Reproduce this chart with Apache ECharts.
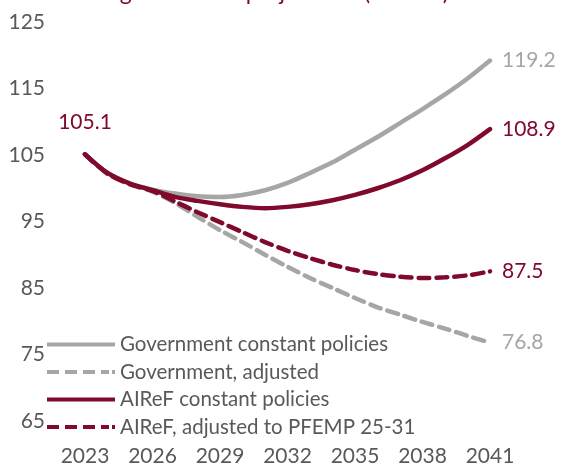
<!DOCTYPE html>
<html>
<head>
<meta charset="utf-8">
<script src="https://cdn.jsdelivr.net/npm/echarts@6/dist/echarts.min.js"></script>
<style>
  html, body { margin: 0; padding: 0; background: #fff; }
  #chart { width: 562px; height: 464px; }
</style>
</head>
<body>
<div id="chart"></div>
<script>
// Debt ratio paths, % of GDP, 2023-2041
const years = ['2023','2024','2025','2026','2027','2028','2029','2030','2031','2032',
               '2033','2034','2035','2036','2037','2038','2039','2040','2041'];

const govConstant = [105.1, 102.3, 100.7, 99.8, 99.2, 98.8, 98.7, 99.0, 99.7, 100.8,
                     102.3, 103.9, 105.8, 107.7, 109.8, 111.9, 114.1, 116.5, 119.2];
const govAdjusted = [105.1, 102.2, 100.6, 99.5, 97.8, 95.7, 93.7, 91.9, 90.0, 88.2,
                     86.5, 85.0, 83.5, 82.1, 81.0, 79.9, 78.9, 77.8, 76.8];
const airefConstant = [105.1, 102.3, 100.7, 99.7, 98.7, 98.1, 97.6, 97.2, 97.0, 97.2,
                       97.6, 98.2, 99.0, 100.0, 101.2, 102.7, 104.5, 106.5, 108.9];
const airefAdjusted = [105.1, 102.2, 100.6, 99.6, 98.0, 96.4, 94.9, 93.4, 91.9, 90.6,
                       89.5, 88.5, 87.7, 87.1, 86.7, 86.5, 86.6, 86.9, 87.5];

const yTicks = { min: 65, max: 125, step: 10 };

const RED = '#800a2c';
const GREY = '#a6a6a6';
const TEXT = '#595959';
const FONT = 'Lato, "Open Sans", sans-serif';

// Legend swatches: a solid bar and a dashed bar, drawn as paths
const SOLID_ICON = 'path://M0,0 L68,0 L68,4 L0,4 Z';
const DASHED_ICON = 'path://M0,0 L12,0 L12,4 L0,4 Z M18,0 L30,0 L30,4 L18,4 Z ' +
                    'M36,0 L48,0 L48,4 L36,4 Z M54,0 L62,0 L62,4 L54,4 Z M65,0 L68,0 L68,4 L65,4 Z';

const chart = echarts.init(document.getElementById('chart'), null, { renderer: 'canvas' });

function endLabel(color) {
  return {
    show: true,
    formatter: p => p.value.toFixed(1),
    color: color,
    fontFamily: FONT,
    fontSize: 21,
    distance: 12
  };
}

const option = {
  animation: false,
  textStyle: { fontFamily: FONT },
  // heading sits above the top edge of the canvas
  graphic: [{
    type: 'text',
    x: 83,
    y: 4,
    silent: true,
    style: {
      text: 'Long-term debt projections (% GDP)',
      fill: RED,
      font: '23px Lato, "Open Sans", sans-serif',
      verticalAlign: 'bottom',
      align: 'left'
    }
  }],
  grid: { left: 85, right: 72, top: 22, bottom: 43, containLabel: false, outerBoundsMode: 'none' },
  legend: {
    orient: 'vertical',
    left: 47,
    top: 334,
    itemWidth: 68,
    itemHeight: 4,
    itemGap: 6.5,
    padding: 0,
    data: [
      { name: 'Government constant policies', icon: SOLID_ICON },
      { name: 'Government, adjusted', icon: DASHED_ICON },
      { name: 'AIReF constant policies', icon: SOLID_ICON },
      { name: 'AIReF, adjusted to PFEMP 25-31', icon: DASHED_ICON }
    ],
    textStyle: { color: TEXT, fontFamily: FONT, fontSize: 20.5, padding: [0, 0, 0, 0] }
  },
  xAxis: {
    type: 'category',
    data: years,
    boundaryGap: false,
    axisLine: { show: false },
    axisTick: { show: false },
    axisLabel: { interval: 2, color: TEXT, fontFamily: FONT, fontSize: 21, margin: 25 }
  },
  yAxis: {
    type: 'value',
    min: yTicks.min,
    max: yTicks.max,
    interval: yTicks.step,
    splitLine: { show: false },
    axisLine: { show: false },
    axisTick: { show: false },
    axisLabel: { color: TEXT, fontFamily: FONT, fontSize: 21, margin: 40 }
  },
  series: [
    {
      name: 'Government, adjusted',
      type: 'line',
      data: govAdjusted,
      smooth: 0.3,
      showSymbol: false,
      symbol: 'none',
      color: GREY,
      lineStyle: { color: GREY, width: 4.5, type: [11, 7], cap: 'round' },
      endLabel: endLabel(GREY)
    },
    {
      name: 'Government constant policies',
      type: 'line',
      data: govConstant,
      smooth: 0.3,
      showSymbol: false,
      symbol: 'none',
      color: GREY,
      lineStyle: { color: GREY, width: 4.5, cap: 'round' },
      endLabel: endLabel(GREY)
    },
    {
      name: 'AIReF, adjusted to PFEMP 25-31',
      type: 'line',
      data: airefAdjusted,
      smooth: 0.3,
      showSymbol: false,
      symbol: 'none',
      color: RED,
      lineStyle: { color: RED, width: 4.5, type: [11, 7], cap: 'round' },
      endLabel: endLabel(RED)
    },
    {
      name: 'AIReF constant policies',
      type: 'line',
      data: airefConstant,
      smooth: 0.3,
      showSymbol: false,
      symbol: 'none',
      color: RED,
      lineStyle: { color: RED, width: 4.5, cap: 'round' },
      endLabel: endLabel(RED),
      // starting value written above the first point
      markPoint: {
        symbol: 'circle',
        symbolSize: 0,
        silent: true,
        data: [{ coord: [years[0], airefConstant[0]], value: airefConstant[0] }],
        label: {
          show: true,
          position: 'top',
          distance: 22,
          formatter: p => p.value.toFixed(1),
          color: RED, fontFamily: FONT, fontSize: 21
        }
      }
    }
  ]
};

chart.setOption(option);
</script>
</body>
</html>
